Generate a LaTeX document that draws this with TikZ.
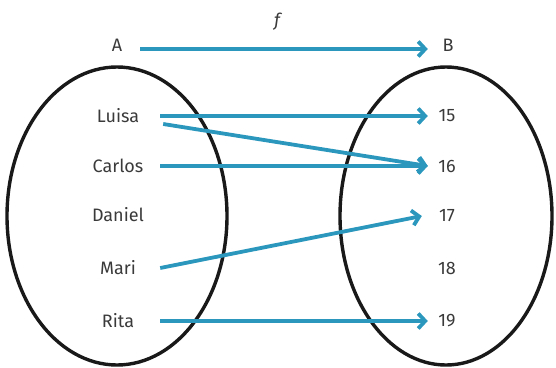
\documentclass[tikz,border=0pt]{standalone}
\usepackage{fontspec}
\setmainfont{Fira Sans}
\usetikzlibrary{arrows.meta, positioning}
\definecolor{mapblue}{HTML}{2C97BD}
\definecolor{labelgray}{HTML}{3A3A3A}

\begin{document}
\begin{tikzpicture}[x=1pt, y=-1pt,
elem/.style={text=labelgray, font=\fontsize{18}{20}\selectfont, minimum width=84pt, inner xsep=0pt, inner ysep=3pt},
num/.style={text=labelgray, font=\fontsize{18}{20}\selectfont, minimum width=38pt, inner xsep=0pt, inner ysep=3pt},
map/.style={-{Straight Barb[length=7pt, width=15pt]}, line width=3.8pt, draw=mapblue},
set/.style={line width=3.4pt, draw=black!90}
]
\useasboundingbox (0,0) rectangle (556,367);
% Define the two sets
\draw[set] (117,216) ellipse [x radius=110, y radius=149];
\draw[set] (446,216) ellipse [x radius=106, y radius=149];
% Set names and function name
\node[elem, minimum width=46pt] (setA) at (117,45) {A};
\node[num, minimum width=40pt] (setB) at (448,45) {B};
\node[font=\fontsize{18}{20}\selectfont\itshape, text=labelgray] (fname) at (277,22) {f};
% Elements of A
\node[elem] (luisa) at (118,116) {Luisa};
\node[elem] (carlos) at (118,166) {Carlos};
\node[elem] (daniel) at (118,215) {Daniel};
\node[elem] (mari) at (118,268) {Mari};
\node[elem] (rita) at (118,321) {Rita};
% Elements of B
\node[num] (n15) at (447,116) {15};
\node[num] (n16) at (447,166) {16};
\node[num] (n17) at (447,216) {17};
\node[num] (n18) at (447,268) {18};
\node[num] (n19) at (447,321) {19};
% Arrows of f
\draw[map] ([yshift=-4pt]setA.east) -- ([yshift=-4pt]setB.west);
\draw[map] (luisa.east) -- (n15.west);
\draw[map] ([shift={(3pt,-8pt)}]luisa.east) -- (n16.west);
\draw[map] (carlos.east) -- (n16.west);
\draw[map] (mari.east) -- ([xshift=-6pt]n17.west);
\draw[map] (rita.east) -- (n19.west);
\end{tikzpicture}
\end{document}
